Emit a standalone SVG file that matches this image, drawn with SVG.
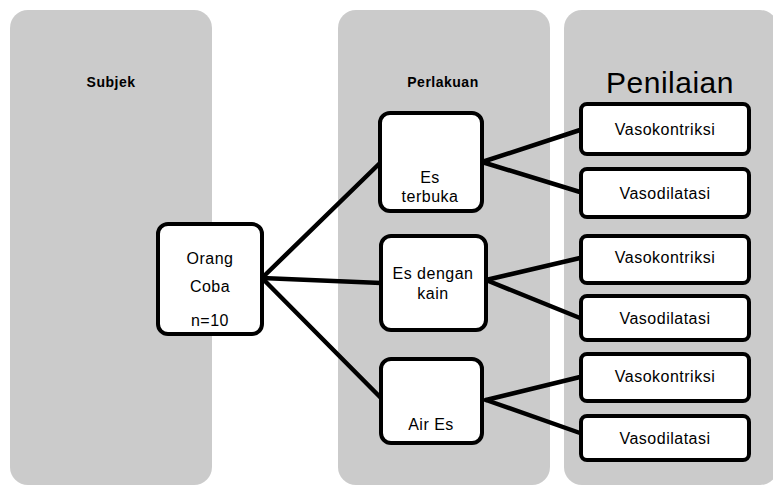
<svg xmlns="http://www.w3.org/2000/svg" width="773" height="485" viewBox="0 0 773 485">
<style>
.panel{fill:#cbcbcb}
.box{fill:#fff;stroke:#000;stroke-width:4}
.t{font-family:"Liberation Sans",Arial,sans-serif;font-size:16px;fill:#000;text-anchor:middle;letter-spacing:0.5px}
.h{font-family:"Liberation Sans",Arial,sans-serif;font-size:14px;font-weight:bold;fill:#000;text-anchor:middle;letter-spacing:0.5px}
.c{stroke:#000;stroke-width:4.5;fill:none;stroke-linecap:round}
</style>
<rect width="773" height="485" fill="#fff"/>
<g id="panels">
<rect class="panel" x="10" y="10" width="202" height="475" rx="18"/>
<rect class="panel" x="338" y="10" width="212" height="475" rx="18"/>
<rect class="panel" x="564" y="10" width="214" height="475" rx="18"/>
<text class="h" x="111" y="87">Subjek</text>
<text class="h" x="443" y="87">Perlakuan</text>
<text class="t" x="670" y="93" style="font-size:30px;letter-spacing:0.5px">Penilaian</text>
</g>
<g id="connectors">
<line class="c" x1="262" y1="278" x2="380" y2="163"/>
<line class="c" x1="262" y1="278" x2="381" y2="283"/>
<line class="c" x1="262" y1="278" x2="381" y2="398"/>
<line class="c" x1="482" y1="162" x2="580" y2="130"/>
<line class="c" x1="482" y1="162" x2="580" y2="192"/>
<line class="c" x1="486" y1="280" x2="580" y2="258"/>
<line class="c" x1="486" y1="280" x2="580" y2="318"/>
<line class="c" x1="486" y1="400" x2="580" y2="377"/>
<line class="c" x1="486" y1="400" x2="580" y2="433"/>
</g>
<g id="orang-coba">
<rect class="box" x="158" y="224" width="104" height="110" rx="10"/>
<text class="t" x="210" y="264">Orang</text>
<text class="t" x="210" y="292">Coba</text>
<text class="t" x="210" y="326">n=10</text>
</g>
<g id="es-terbuka">
<rect class="box" x="380" y="113" width="102" height="98" rx="10"/>
<text class="t" x="430" y="183">Es</text>
<text class="t" x="430" y="202">terbuka</text>
</g>
<g id="es-dengan-kain">
<rect class="box" x="381" y="236" width="105" height="94" rx="10"/>
<text class="t" x="433" y="279">Es dengan</text>
<text class="t" x="433" y="299">kain</text>
</g>
<g id="air-es">
<rect class="box" x="381" y="359" width="101" height="84" rx="10"/>
<text class="t" x="431" y="430">Air Es</text>
</g>
<g id="r1"><rect class="box" x="581" y="104" width="168" height="50" rx="6"/><text class="t" x="665" y="135">Vasokontriksi</text></g>
<g id="r2"><rect class="box" x="581" y="169" width="168" height="48" rx="6"/><text class="t" x="665" y="199">Vasodilatasi</text></g>
<g id="r3"><rect class="box" x="581" y="236" width="168" height="47" rx="6"/><text class="t" x="665" y="263">Vasokontriksi</text></g>
<g id="r4"><rect class="box" x="581" y="296" width="168" height="44" rx="6"/><text class="t" x="665" y="324">Vasodilatasi</text></g>
<g id="r5"><rect class="box" x="581" y="354" width="168" height="47" rx="6"/><text class="t" x="665" y="382">Vasokontriksi</text></g>
<g id="r6"><rect class="box" x="581" y="416" width="168" height="44" rx="6"/><text class="t" x="665" y="444">Vasodilatasi</text></g>
</svg>
